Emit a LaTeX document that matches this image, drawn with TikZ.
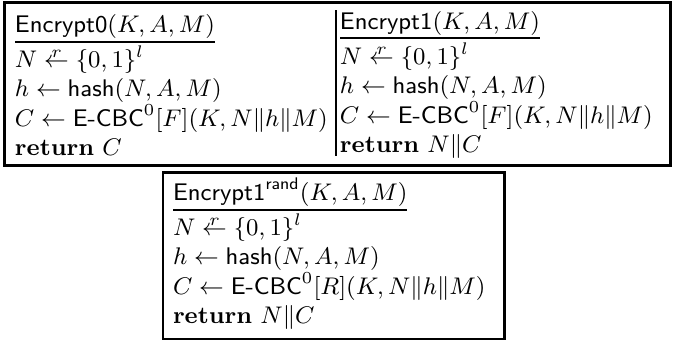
\RequirePackage{fix-cm}
\documentclass[tikz,border=0pt]{standalone}
\usepackage{amsmath}
\newcommand{\randget}{\mathrel{\vbox{\offinterlineskip\halign{\hfil##\hfil\cr$\scriptstyle r$\cr\noalign{\kern0.3pt}$\leftarrow$\cr}}}}
\begin{document}
\begin{tikzpicture}[x=0.3846pt,y=-0.3846pt,
  ln/.style={anchor=base west,inner sep=0pt,outer sep=0pt,font=\fontsize{9.25}{11.5}\selectfont},
  frame/.style={line width=1.15pt},
  bframe/.style={line width=1pt},
  uline/.style={line width=0.6pt},
  divider/.style={line width=0.8pt}]
\useasboundingbox (0,0) rectangle (673,341);
% top frame
\draw[frame] (4.5,2) rectangle (670.5,165.5);
\draw[divider] (336,10) -- (336,156);
% left column
\node[ln] (a0) at (15,32.5) {$\textsf{Encrypt0}(K,A,M)$};
\node[ln] (a1) at (15,67.5) {$N \randget \{0,1\}^l$};
\node[ln] (a2) at (15,96.5) {$h \leftarrow \textsf{hash}(N,A,M)$};
\node[ln] (a3) at (15,126) {$C \leftarrow \textsf{E-CBC}^0[F](K,N\|h\|M)$};
\node[ln] (a4) at (15,155) {$\textbf{return}\ C$};
\draw[uline] ([yshift=-3.6pt]a0.base west) -- ([yshift=-3.6pt]a0.base east);
% right column
\node[ln] (b0) at (340,29.5) {$\textsf{Encrypt1}(K,A,M)$};
\node[ln] (b1) at (340,64.5) {$N \randget \{0,1\}^l$};
\node[ln] (b2) at (340,93.5) {$h \leftarrow \textsf{hash}(N,A,M)$};
\node[ln] (b3) at (340,123) {$C \leftarrow \textsf{E-CBC}^0[F](K,N\|h\|M)$};
\node[ln] (b4) at (340,152) {$\textbf{return}\ N\|C$};
\draw[uline] ([yshift=-3.3pt]b0.base west) -- ([yshift=-3.3pt]b0.base east);
% bottom box
\draw[bframe] (163,172.5) rectangle (504.5,339);
\node[ln] (c0) at (173,200) {$\textsf{Encrypt1}^{\textsf{rand}}(K,A,M)$};
\node[ln] (c1) at (173,235.5) {$N \randget \{0,1\}^l$};
\node[ln] (c2) at (173,264.5) {$h \leftarrow \textsf{hash}(N,A,M)$};
\node[ln] (c3) at (173,294) {$C \leftarrow \textsf{E-CBC}^0[R](K,N\|h\|M)$};
\node[ln] (c4) at (173,323) {$\textbf{return}\ N\|C$};
\draw[uline] ([yshift=-3.8pt]c0.base west) -- ([yshift=-3.8pt]c0.base east);
\end{tikzpicture}
\end{document}
